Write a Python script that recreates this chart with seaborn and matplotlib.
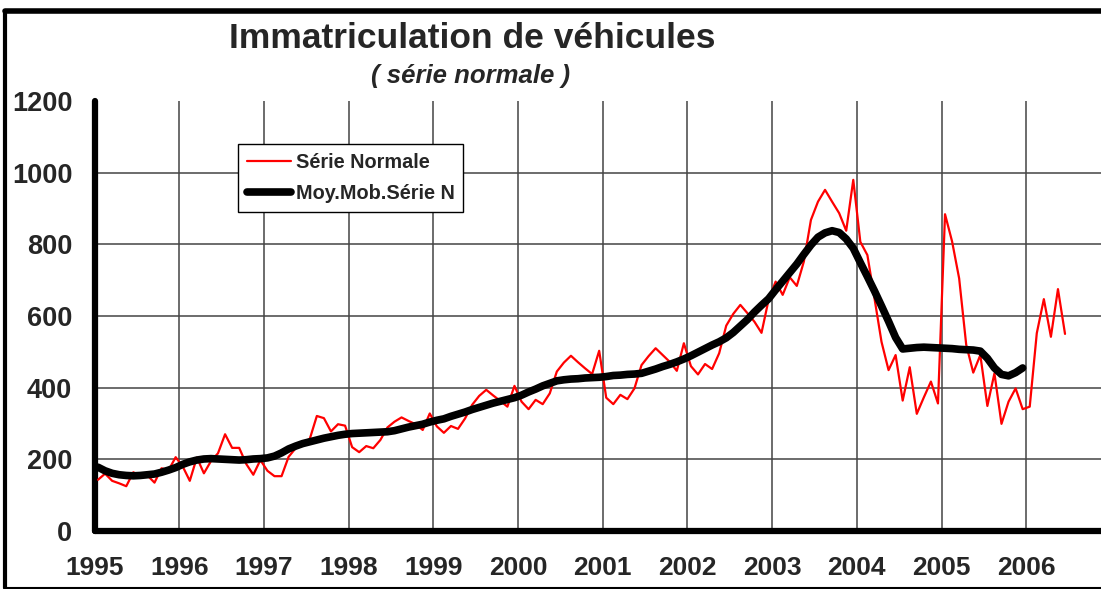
import matplotlib
matplotlib.use("Agg")
import matplotlib.pyplot as plt
from matplotlib.lines import Line2D
import numpy as np
import pandas as pd
import seaborn as sns

# ---- data (monthly, Jan 1995 onward) ----
years = [1995, 1996, 1997, 1998, 1999, 2000, 2001, 2002, 2003, 2004, 2005, 2006]
serie_normale = [
    143, 160, 140, 133, 125, 164, 152, 155, 135, 175, 170, 206,   # 1995
    180, 140, 205, 161, 195, 217, 270, 232, 232, 187, 157, 198,   # 1996
    168, 153, 153, 207, 231, 245, 257, 321, 315, 278, 298, 294,   # 1997
    234, 220, 237, 231, 254, 289, 305, 317, 307, 298, 282, 328,   # 1998
    292, 274, 293, 285, 314, 352, 377, 394, 378, 363, 347, 405,   # 1999
    361, 340, 366, 354, 384, 445, 470, 489, 471, 454, 438, 503,   # 2000
    372, 354, 380, 368, 398, 463, 488, 510, 491, 472, 447, 524,   # 2001
    460, 437, 466, 452, 496, 573, 606, 631, 608, 584, 553, 645,   # 2002
    696, 659, 708, 684, 752, 868, 919, 952, 919, 887, 838, 980,   # 2003
    807, 770, 650, 528, 449, 491, 364, 457, 327, 373, 417, 356,   # 2004
    884, 808, 705, 520, 442, 491, 349, 440, 299, 361, 398, 340,   # 2005
    347, 552, 647, 542, 675, 550,                                 # 2006
]
moy_mob = [
    178, 168, 161, 157, 155, 154, 155, 157, 159, 164, 170, 177,   # 1995
    186, 193, 198, 201, 202, 201, 200, 199, 198, 199, 201, 202,   # 1996
    204, 209, 218, 229, 237, 244, 249, 254, 259, 263, 267, 270,   # 1997
    272, 273, 274, 275, 276, 277, 280, 285, 290, 294, 298, 304,   # 1998
    309, 313, 320, 326, 332, 339, 345, 351, 357, 362, 367, 372,   # 1999
    379, 388, 396, 405, 412, 419, 422, 424, 425, 427, 428, 429,   # 2000
    431, 434, 435, 437, 438, 440, 446, 452, 459, 465, 472, 480,   # 2001
    489, 499, 509, 519, 528, 539, 554, 572, 590, 611, 630, 648,   # 2002
    673, 697, 721, 745, 772, 798, 820, 832, 838, 833, 815, 789,   # 2003
    749, 710, 670, 628, 585, 540, 508, 510, 512, 513, 512, 511,   # 2004
    510, 509, 507, 506, 505, 502, 482, 455, 437, 433, 442, 455,   # 2005
]
yticks = [0, 200, 400, 600, 800, 1000, 1200]
label_red = "Série Normale"
label_black = "Moy.Mob.Série N"
title = "Immatriculation de véhicules"
subtitle = "( série normale )"

t_red = 1995 + (np.arange(len(serie_normale)) + 0.5) / 12
t_blk = 1995 + (np.arange(len(moy_mob)) + 0.5) / 12
df_red = pd.DataFrame({"t": t_red, "v": serie_normale})
df_blk = pd.DataFrame({"t": t_blk, "v": moy_mob})

sns.set_style("white")
plt.rcParams["font.family"] = ["Liberation Sans", "DejaVu Sans"]
plt.rcParams["font.weight"] = "bold"

W, H = 1101, 589
fig = plt.figure(figsize=(W / 100, H / 100), dpi=100)
ax = fig.add_axes([94.5 / W, 1 - 531 / H, 1 - 94.5 / W, 430 / H])

sns.lineplot(data=df_red, x="t", y="v", ax=ax, color="#ff0000", lw=1.6,
             label=label_red, zorder=3)
sns.lineplot(data=df_blk, x="t", y="v", ax=ax, color="black", lw=5.5,
             label=label_black, zorder=4, solid_capstyle="round")

ax.set_xlim(1995, 1995 + (W - 94.5) / 84.7)
ax.set_ylim(0, 1200)
ax.set_xticks(years)
ax.set_xticklabels([str(y) for y in years], fontsize=19, fontweight="bold")
ax.set_yticks(yticks)
ax.set_yticklabels([str(y) for y in yticks], fontsize=19.5, fontweight="bold")
ax.set_xlabel("")
ax.set_ylabel("")

for v in yticks[1:-1]:
    ax.axhline(v, color="#444444", lw=1.1, zorder=1)
for y in years[1:]:
    ax.axvline(y, color="#444444", lw=1.1, zorder=1)

for s in ["top", "right"]:
    ax.spines[s].set_visible(False)
for s in ["left", "bottom"]:
    ax.spines[s].set_visible(True)
    ax.spines[s].set_color("black")
    ax.spines[s].set_linewidth(4.5)
    ax.spines[s].set_capstyle("round")

ax.tick_params(axis="y", direction="in", length=7, width=5, color="black", pad=16)
ax.tick_params(axis="x", direction="in", length=7, width=4, color="black", pad=18)

leg = ax.legend(loc="upper left", bbox_to_anchor=((238 - 94.5) / (W - 94.5), (531 - 144) / 430),
                borderaxespad=0, frameon=True, fancybox=False, handlelength=2.2,
                handletextpad=0.25, borderpad=0.45, labelspacing=0.6,
                prop={"weight": "bold", "size": 14.3})
leg.get_frame().set_edgecolor("black")
leg.get_frame().set_linewidth(1.0)
leg.get_frame().set_facecolor("white")
leg.get_frame().set_alpha(1)
leg.set_zorder(10)

fig.text(472 / W, 1 - 38 / H, title, ha="center", va="center",
         fontsize=25.5, fontweight="bold")
fig.text(471 / W, 1 - 76 / H, subtitle, ha="center", va="center",
         fontsize=18.5, fontweight="bold", style="italic")

# outer frame
fig.add_artist(Line2D([5 / W, 1], [1 - 11 / H, 1 - 11 / H], transform=fig.transFigure,
                      color="black", lw=4))
fig.add_artist(Line2D([5 / W, 5 / W], [1 - 11 / H, 1 / H], transform=fig.transFigure,
                      color="black", lw=3))
fig.add_artist(Line2D([5 / W, 1], [1.5 / H, 1.5 / H], transform=fig.transFigure,
                      color="black", lw=1.5))

fig.savefig("out.png", dpi=100)
